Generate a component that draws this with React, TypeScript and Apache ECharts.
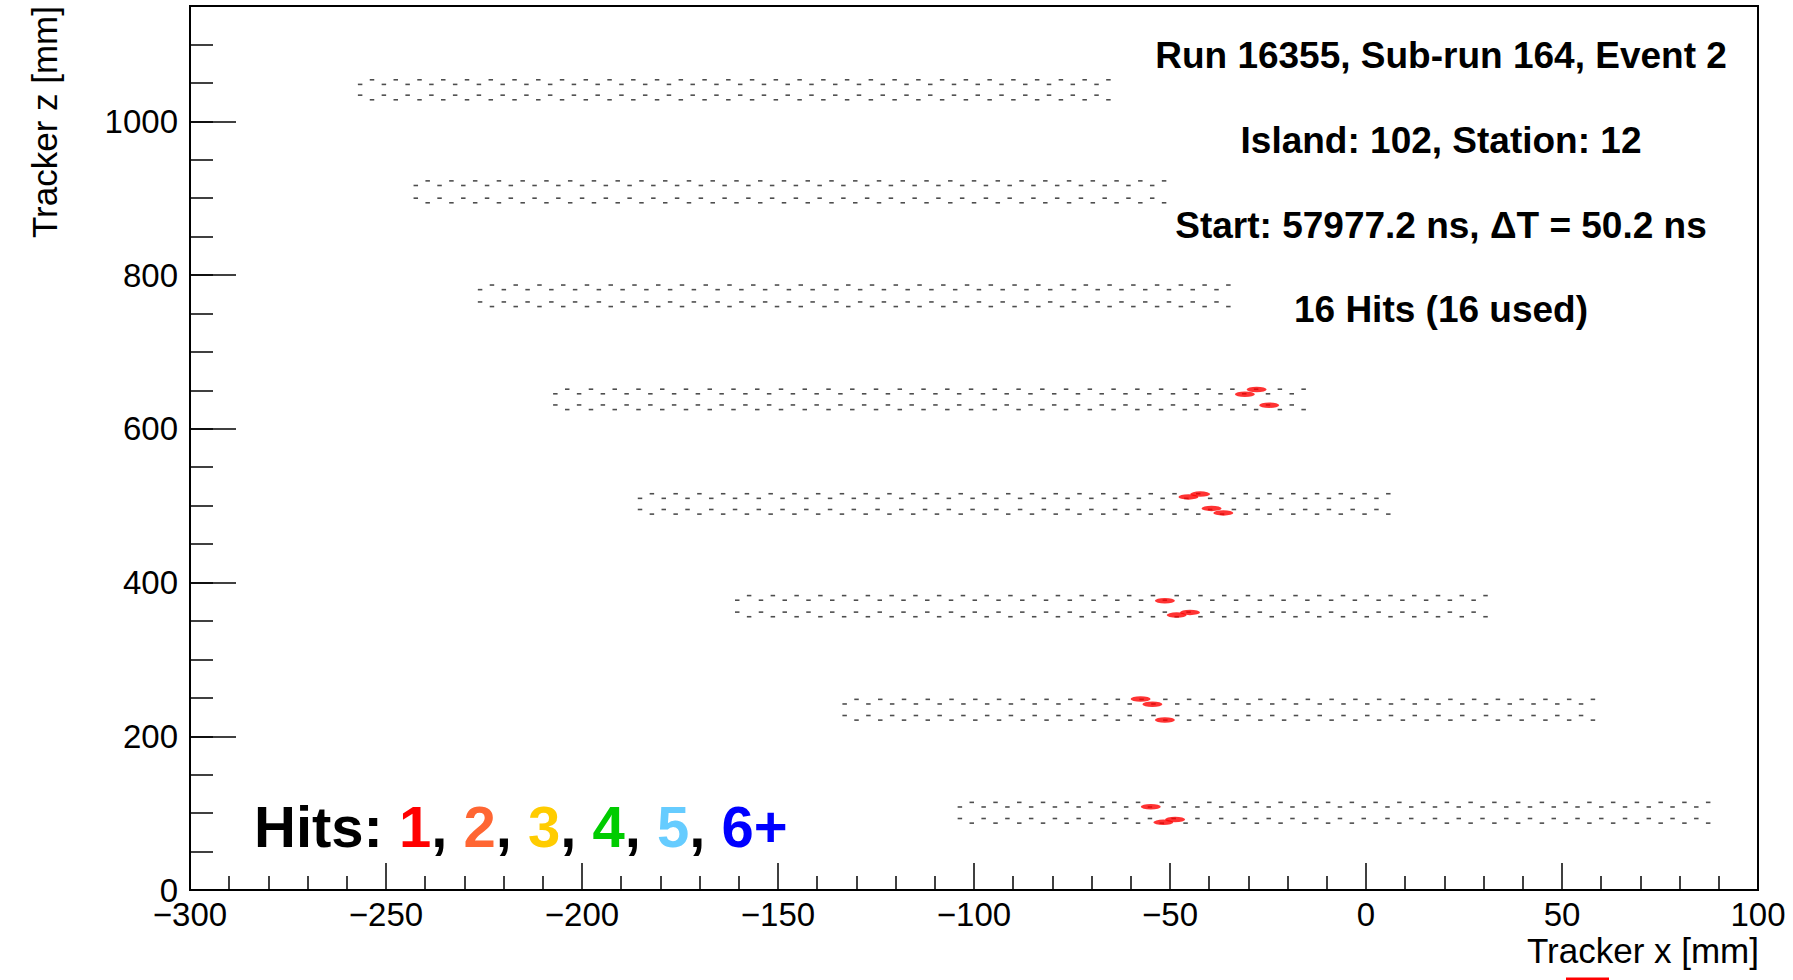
import React, { useEffect, useRef } from "react";
import * as echarts from "echarts";

// ---- Axis ranges / ticks ----
const X_MIN = -300;
const X_MAX = 100;
const X_INTERVAL = 50;
const Y_MIN = 0;
const Y_MAX = 1150;
const Y_MAJOR = 200;
const Y_MINOR = 50;

// ---- Tracker module geometry (mm) ----
const moduleX0 = [-256.6, -242.4, -226.0, -206.8, -185.2, -160.4, -133.0, -103.6];
const moduleZUpper = [1051, 919.5, 784, 648.5, 512.5, 380, 245, 111];
const moduleZLower = [1031, 897, 762, 628, 492, 358.5, 224, 90];
const STRAWS_PER_LAYER = 32;
const STRAW_PITCH = 6.06;
const LAYER_STAGGER = 3.03;
const SUBLAYER_DZ = 3;

// ---- Hits (x mm, z mm) ----
const hitX = [-27.9, -30.9, -24.7, -42.3, -45.3, -39.4, -36.4, -51.3, -48.3, -44.9, -57.5, -54.5, -51.3, -54.9, -51.7, -48.7];
const hitZ = [651.1, 645.0, 630.7, 515.0, 511.4, 496.4, 490.6, 376.2, 357.6, 361.1, 248.4, 241.7, 221.1, 108.3, 88.0, 91.8];

// ---- Texts ----
const infoLines = [
  "Run 16355, Sub-run 164, Event 2",
  "Island: 102, Station: 12",
  "Start: 57977.2 ns, \u0394T = 50.2 ns",
  "16 Hits (16 used)",
];
const hitLabels = ["1", "2", "3", "4", "5", "6+"];
const hitColors = ["#ff0000", "#ff6633", "#ffcc00", "#00cc00", "#66ccff", "#0000ff"];

const FONT = "'Liberation Sans', Arial, Helvetica, sans-serif";

function buildStraws(): number[][] {
  const pts: number[][] = [];
  for (let m = 0; m < moduleX0.length; m++) {
    const x0 = moduleX0[m];
    const layers: [number, number][] = [
      [x0, moduleZUpper[m] - SUBLAYER_DZ],
      [x0 + LAYER_STAGGER, moduleZUpper[m] + SUBLAYER_DZ],
      [x0, moduleZLower[m] + SUBLAYER_DZ],
      [x0 + LAYER_STAGGER, moduleZLower[m] - SUBLAYER_DZ],
    ];
    for (const [lx, lz] of layers) {
      for (let i = 0; i < STRAWS_PER_LAYER; i++) {
        pts.push([lx + i * STRAW_PITCH, lz]);
      }
    }
  }
  return pts;
}

export default function App() {
  const ref = useRef<HTMLDivElement>(null);

  useEffect(() => {
    if (!ref.current) return;
    const chart = echarts.init(ref.current, undefined, { renderer: "svg" });

    const richParts: string[] = ["{k|Hits: }"];
    const rich: Record<string, any> = {
      k: { fill: "#000", fontSize: 58, fontWeight: "bold", fontFamily: FONT },
    };
    hitLabels.forEach((lab, i) => {
      richParts.push(`{c${i}|${lab}}`);
      rich[`c${i}`] = { fill: hitColors[i], fontSize: 58, fontWeight: "bold", fontFamily: FONT };
      if (i < hitLabels.length - 1) richParts.push("{k|, }");
    });

    const infoY = [55, 140, 225, 309];

    const option: any = {
      animation: false,
      backgroundColor: "#fff",
      grid: {
        left: 190,
        top: 6,
        width: 1568,
        height: 884,
        show: true,
        borderColor: "#000",
        borderWidth: 2,
        backgroundColor: "transparent",
      },
      xAxis: {
        type: "value",
        min: X_MIN,
        max: X_MAX,
        interval: X_INTERVAL,
        position: "bottom",
        axisLine: { show: true, onZero: false, lineStyle: { color: "#000", width: 2 } },
        axisTick: { show: true, inside: true, length: 27, lineStyle: { color: "#000", width: 1.5 } },
        minorTick: { show: true, splitNumber: 5, length: 14, lineStyle: { color: "#000", width: 1.5 } },
        splitLine: { show: false },
        minorSplitLine: { show: false },
        axisLabel: {
          fontSize: 33,
          fontFamily: FONT,
          color: "#000",
          margin: 8,
          formatter: (v: number) => (v < 0 ? "\u2212" + Math.abs(v) : String(v)),
        },
      },
      yAxis: [
        {
          type: "value",
          min: Y_MIN,
          max: Y_MAX,
          interval: Y_MAJOR,
          position: "left",
          axisLine: { show: true, onZero: false, lineStyle: { color: "#000", width: 2 } },
          axisTick: { show: true, inside: true, length: 46, lineStyle: { color: "#000", width: 1.5 } },
          splitLine: { show: false },
          axisLabel: {
            fontSize: 33,
            fontFamily: FONT,
            color: "#000",
            margin: 12,
            showMaxLabel: false,
            formatter: (v: number) => String(v),
          },
        },
        {
          type: "value",
          min: Y_MIN,
          max: Y_MAX,
          interval: Y_MINOR,
          position: "left",
          axisLine: { show: false, onZero: false },
          axisTick: { show: true, inside: true, length: 23, lineStyle: { color: "#000", width: 1.5 } },
          splitLine: { show: false },
          axisLabel: { show: false },
        },
      ],
      series: [
        {
          type: "scatter",
          name: "straws",
          xAxisIndex: 0,
          yAxisIndex: 0,
          symbol: "rect",
          symbolSize: [4.5, 1.6],
          itemStyle: { color: "#222" },
          data: buildStraws(),
          silent: true,
        },
        {
          type: "scatter",
          name: "hits",
          xAxisIndex: 0,
          yAxisIndex: 0,
          symbol: "path://M-1,0A1,1 0 1,0 1,0A1,1 0 1,0 -1,0Z",
          symbolKeepAspect: false,
          symbolSize: [20, 5.5],
          itemStyle: { color: "#ff0000" },
          data: hitX.map((x, i) => [x, hitZ[i]]),
          silent: true,
        },
      ],
      graphic: [
        ...infoLines.map((t, i) => ({
          type: "text",
          x: 1441,
          y: infoY[i],
          silent: true,
          style: {
            text: t,
            fill: "#000",
            font: `bold 37px ${FONT}`,
            align: "center",
            verticalAlign: "middle",
          },
        })),
        {
          type: "text",
          x: 254,
          y: 826,
          silent: true,
          style: {
            text: richParts.join(""),
            rich,
            font: `bold 58px ${FONT}`,
            align: "left",
            verticalAlign: "middle",
          },
        },
        {
          type: "text",
          x: 44,
          y: 6,
          rotation: Math.PI / 2,
          silent: true,
          style: {
            text: "Tracker z [mm]",
            fill: "#000",
            font: `35px ${FONT}`,
            align: "right",
            verticalAlign: "middle",
          },
        },
        {
          type: "text",
          x: 1759,
          y: 950,
          silent: true,
          style: {
            text: "Tracker x [mm]",
            fill: "#000",
            font: `35px ${FONT}`,
            align: "right",
            verticalAlign: "middle",
          },
        },
        {
          type: "line",
          silent: true,
          shape: { x1: 1566, y1: 979, x2: 1609, y2: 979 },
          style: { stroke: "#ff0000", lineWidth: 3 },
        },
      ],
    };

    chart.setOption(option);
    return () => chart.dispose();
  }, []);

  return (
    <div
      ref={ref}
      style={{ position: "absolute", left: 0, top: 0, width: 1793, height: 980 }}
    />
  );
}
